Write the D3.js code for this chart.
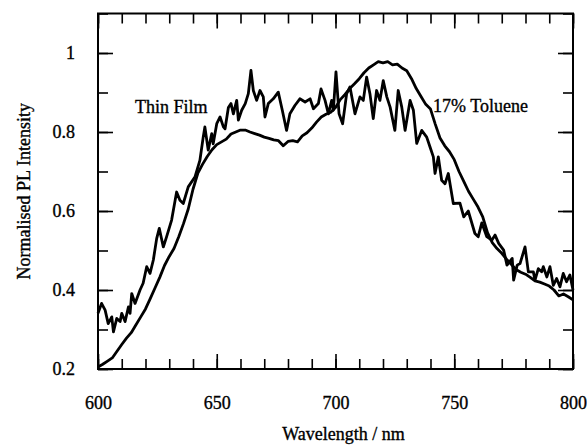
<!DOCTYPE html>
<html>
<head>
<meta charset="utf-8">
<script src="https://cdn.jsdelivr.net/npm/d3@7/dist/d3.min.js"></script>
<style>
  html, body { margin: 0; padding: 0; background: #fff; }
  svg text { font-family: "Liberation Serif", "Times New Roman", serif; fill: #000; stroke: #000; stroke-width: 0.35px; }
</style>
</head>
<body>
<div id="chart"></div>
<script>
// smooth spectrum (17% toluene)
const tolNm = [600, 602, 604, 606, 608, 610, 612, 614, 616, 618, 620, 622, 624, 626, 628, 630, 632, 634, 636, 638,
  640, 642, 644, 646, 648, 650, 652, 654, 656, 658, 660, 662, 664, 666, 668, 670, 672, 674, 676, 678,
  680, 682, 684, 686, 688, 690, 692, 694, 696, 698, 700, 702, 704, 706, 708, 710, 712, 714, 716, 718,
  720, 722, 724, 726, 728, 730, 732, 734, 736, 738, 740, 742, 744, 746, 748, 750, 752, 754, 756, 758,
  760, 762, 764, 766, 768, 770, 772, 774, 776, 778, 780, 782, 784, 786, 788, 790, 792, 794, 796, 798, 800];
const tolVal = [0.205, 0.212, 0.220, 0.228, 0.245, 0.262, 0.278, 0.292, 0.312, 0.332, 0.352, 0.378, 0.405, 0.432, 0.462, 0.485, 0.505, 0.535, 0.568, 0.605,
  0.655, 0.695, 0.718, 0.738, 0.755, 0.768, 0.775, 0.782, 0.795, 0.800, 0.805, 0.805, 0.800, 0.796, 0.792, 0.787, 0.784, 0.780, 0.778, 0.765,
  0.776, 0.778, 0.775, 0.790, 0.798, 0.810, 0.825, 0.838, 0.845, 0.850, 0.862, 0.882, 0.895, 0.910, 0.922, 0.935, 0.950, 0.962, 0.970, 0.978,
  0.975, 0.978, 0.970, 0.972, 0.962, 0.955, 0.935, 0.910, 0.890, 0.870, 0.858, 0.820, 0.785, 0.765, 0.750, 0.730, 0.700, 0.675, 0.650, 0.630,
  0.610, 0.585, 0.545, 0.520, 0.505, 0.493, 0.478, 0.465, 0.452, 0.445, 0.440, 0.432, 0.423, 0.420, 0.415, 0.410, 0.400, 0.385, 0.390, 0.383, 0.375];

// noisy spectrum (thin film)
const filmNm = [600, 601.5, 603, 604.3, 605.8, 606.5, 607.9, 609.3, 610, 611.4, 612.8, 613.5, 614.2, 615.6, 617.7, 619, 620.5, 621.9, 623.3, 624.7,
  625.8, 627.5, 628.9, 631, 633.1, 634.5, 635.9, 638, 640.8, 642.9, 644.3, 645, 646.4, 647.9, 648.5, 650, 651.4, 652.8, 653.5, 654.9,
  656, 657, 658.4, 659.1, 660.5, 662, 663.3, 664.4, 665.4, 666.8, 668.2, 669.6, 670.3, 671.7, 673.8, 675.9, 677.6, 679.4, 680.8, 682.9,
  685, 687.2, 689.3, 690.7, 692.8, 693.9, 695.6, 697, 698.4, 699.1, 700.2, 701.5, 703, 704.7, 706.1, 708.2, 710.3, 711.7, 713.1, 714.5,
  715.9, 717.3, 718.7, 720.1, 721.6, 723, 725, 726.4, 727.9, 729.3, 731.4, 732.8, 734.2, 736.3, 738.4, 739.8, 741.2, 741.9, 743.3, 744.7,
  746.1, 747.5, 749.6, 752.4, 754, 755.9, 758.7, 760.1, 761.6, 763.7, 765.8, 767.2, 768.7, 770.8, 772.2, 774.4, 775, 776.5, 777.7, 779.8,
  781.2, 783.3, 784, 785.4, 786.8, 787.5, 789, 790.3, 791.7, 793.1, 794.5, 795.9, 797.3, 798.7, 800];
const filmVal = [0.341, 0.366, 0.349, 0.315, 0.332, 0.294, 0.328, 0.320, 0.341, 0.320, 0.357, 0.341, 0.391, 0.366, 0.400, 0.417, 0.459, 0.442, 0.476, 0.530,
  0.556, 0.509, 0.535, 0.577, 0.648, 0.627, 0.619, 0.661, 0.686, 0.728, 0.787, 0.813, 0.754, 0.796, 0.770, 0.821, 0.838, 0.813, 0.808, 0.862,
  0.872, 0.846, 0.880, 0.830, 0.855, 0.872, 0.897, 0.956, 0.905, 0.880, 0.905, 0.889, 0.838, 0.872, 0.884, 0.901, 0.855, 0.804, 0.846, 0.867,
  0.884, 0.876, 0.884, 0.859, 0.872, 0.909, 0.880, 0.846, 0.880, 0.855, 0.952, 0.846, 0.821, 0.897, 0.914, 0.846, 0.889, 0.880, 0.939, 0.897,
  0.834, 0.905, 0.880, 0.930, 0.889, 0.863, 0.804, 0.905, 0.863, 0.804, 0.880, 0.855, 0.771, 0.804, 0.787, 0.762, 0.737, 0.695, 0.737, 0.678,
  0.669, 0.695, 0.619, 0.620, 0.585, 0.600, 0.543, 0.535, 0.570, 0.535, 0.526, 0.539, 0.518, 0.501, 0.463, 0.480, 0.425, 0.463, 0.467, 0.509,
  0.446, 0.446, 0.425, 0.454, 0.446, 0.459, 0.433, 0.459, 0.412, 0.429, 0.408, 0.442, 0.421, 0.438, 0.400];

const xMajor = [600, 650, 700, 750, 800];
const xMinor = d3.range(600, 801, 10);
const yMajor = [0.2, 0.4, 0.6, 0.8, 1.0];
const yMinor = d3.range(2, 12).map((d) => d / 10);

const W = 587, H = 445,
  M = { t: 13.5, r: 14, b: 76, l: 98 },
  w = W - M.l - M.r,
  h = H - M.t - M.b;

const svg = d3.select("#chart").append("svg")
  .attr("width", W).attr("height", H);
const g = svg.append("g").attr("transform", `translate(${M.l},${M.t})`);

const x = d3.scaleLinear().domain([600, 800]).range([0, w]);
const y = d3.scaleLinear().domain([0.2, 1.1]).range([h, 0]);

const FS = 18;

function styleAxis(sel) {
  sel.select(".domain").remove();
  sel.selectAll("line").attr("stroke", "#000").attr("stroke-width", 1.6);
  sel.selectAll("text").attr("font-size", FS).attr("fill", "#000")
    .attr("font-family", "Liberation Serif, serif");
}

// minor ticks (inward, all four sides)
g.append("g").attr("transform", `translate(0,${h})`)
  .call(d3.axisBottom(x).tickValues(xMinor).tickSize(-10).tickFormat(""))
  .call(styleAxis);
g.append("g")
  .call(d3.axisTop(x).tickValues(xMinor).tickSize(-10).tickFormat(""))
  .call(styleAxis);
g.append("g")
  .call(d3.axisLeft(y).tickValues(yMinor).tickSize(-10).tickFormat(""))
  .call(styleAxis);
g.append("g").attr("transform", `translate(${w},0)`)
  .call(d3.axisRight(y).tickValues(yMinor).tickSize(-10).tickFormat(""))
  .call(styleAxis);

// major ticks + labels
g.append("g").attr("transform", `translate(0,${h})`)
  .call(d3.axisBottom(x).tickValues(xMajor).tickSize(-15).tickPadding(27).tickFormat(d3.format("d")))
  .call(styleAxis);
g.append("g")
  .call(d3.axisTop(x).tickValues(xMajor).tickSize(-15).tickFormat(""))
  .call(styleAxis);
g.append("g")
  .call(d3.axisLeft(y).tickValues(yMajor).tickSize(-15).tickPadding(23).tickFormat((d) => (d === 1 ? "1" : d3.format(".1f")(d))))
  .call(styleAxis);
g.append("g").attr("transform", `translate(${w},0)`)
  .call(d3.axisRight(y).tickValues(yMajor).tickSize(-15).tickFormat(""))
  .call(styleAxis);

// frame
g.append("rect")
  .attr("width", w).attr("height", h)
  .attr("fill", "none").attr("stroke", "#000").attr("stroke-width", 2);

const line = d3.line().x((d) => x(d[0])).y((d) => y(d[1]));

g.append("path")
  .datum(d3.zip(tolNm, tolVal))
  .attr("d", line)
  .attr("fill", "none").attr("stroke", "#000")
  .attr("stroke-width", 2.8).attr("stroke-linejoin", "round");

g.append("path")
  .datum(d3.zip(filmNm, filmVal))
  .attr("d", line)
  .attr("fill", "none").attr("stroke", "#000")
  .attr("stroke-width", 2.8).attr("stroke-linejoin", "round");

// annotations
g.append("text").attr("x", 135 - M.l).attr("y", 113 - M.t)
  .attr("font-size", FS).text("Thin Film");
g.append("text").attr("x", 433 - M.l).attr("y", 112 - M.t)
  .attr("font-size", FS).text("17% Toluene");

// axis titles
svg.append("text")
  .attr("x", M.l + w / 2 + 8).attr("y", 440)
  .attr("text-anchor", "middle").attr("font-size", FS)
  .text("Wavelength / nm");
svg.append("text")
  .attr("transform", `translate(30,${M.t + h / 2}) rotate(-90)`)
  .attr("text-anchor", "middle").attr("font-size", FS)
  .text("Normalised PL Intensity");
</script>
</body>
</html>
